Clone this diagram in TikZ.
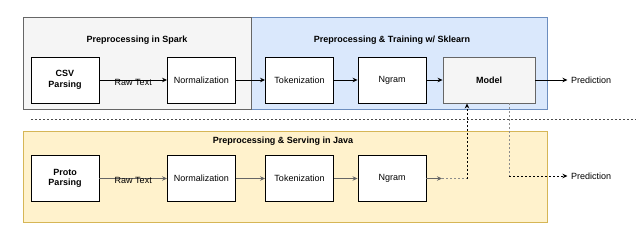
\documentclass[tikz,border=0pt]{standalone}
\usepackage{fontspec}
\setmainfont{Liberation Sans}
\usetikzlibrary{positioning,calc,arrows.meta}

\definecolor{sparkfill}{HTML}{F5F5F5}
\definecolor{sparkline}{HTML}{666666}
\definecolor{skfill}{HTML}{DAE8FC}
\definecolor{skline}{HTML}{6C8EBF}
\definecolor{javafill}{HTML}{FFF2CC}
\definecolor{javaline}{HTML}{D6B656}

\begin{document}
\begin{tikzpicture}[x=1pt,y=-1pt,font=\fontsize{9}{10.5}\selectfont,
                     >={Stealth[length=5pt,width=4.5pt]},
                     group/.style={rectangle,draw,line width=0.8pt,inner sep=0pt},
                     step node/.style={rectangle,draw,fill=white,line width=0.9pt,minimum width=68pt,minimum height=46pt,inner sep=1pt,align=center},
                     title/.style={font=\fontsize{9}{10.5}\selectfont\bfseries},
                     flow/.style={->,line width=0.8pt},
                     dotline/.style={line width=0.8pt,dash pattern=on 2pt off 2pt}
                    ]
   \useasboundingbox (0,0) rectangle (636,246);

   % the three stages
   \node[group,fill=skfill,draw=skline,minimum width=296pt,minimum height=92pt] (sk) at (399,63) {};
   \node[group,fill=sparkfill,draw=sparkline,minimum width=228pt,minimum height=92pt] (spark) at (137,63) {};
   \node[group,fill=javafill,draw=javaline,minimum width=524pt,minimum height=91pt] (java) at (285,176.5) {};
   \node[title] (tspark) at (137,40) {Preprocessing in Spark};
   \node[title] (tsk) at (392,40) {Preprocessing \& Training w/ Sklearn};
   \node[title] (tjava) at (283,141) {Preprocessing \& Serving in Java};

   % training row
   \node[step node,font=\fontsize{9}{10.5}\selectfont\bfseries] (csv) at (65,80) {CSV\\Parsing};
   \node[step node] (norm1) at (201.5,80) {Normalization};
   \node[step node] (tok1) at (299.5,80) {Tokenization};
   \node[step node] (ngram1) at (392,80) {Ngram};
   \node[step node,fill=sparkfill,draw=sparkline,minimum width=92pt,font=\fontsize{9}{10.5}\selectfont\bfseries] (model) at (489,80) {Model};
   \node (pred1) at (591,80) {Prediction};

   % serving row
   \node[step node,font=\fontsize{9}{10.5}\selectfont\bfseries] (proto) at (65,178.5) {Proto\\Parsing};
   \node[step node] (norm2) at (201.5,178.5) {Normalization};
   \node[step node] (tok2) at (299.5,178.5) {Tokenization};
   \node[step node] (ngram2) at (392,178.5) {Ngram};
   \node (pred2) at (591,176) {Prediction};
   \coordinate (join) at (442,178.5);
   \coordinate (turn) at (509,176);

   % split between training and serving
   \coordinate (sepl) at (31,119);
   \coordinate (sepr) at (636,119);
   \draw[dotline,black!70,line width=0.6pt] (sepl) -- (sepr);

   \path[flow]%
     (csv) edge node [yshift=-2pt] {Raw Text} (norm1)
     (norm1) edge (tok1)
     (tok1) edge (ngram1)
     (ngram1) edge (model)
     (model) edge (pred1);
   \path[flow,black!60]%
     (proto) edge node [yshift=-2pt,black] {Raw Text} (norm2)
     (norm2) edge (tok2)
     (tok2) edge (ngram2)
     (ngram2) edge (join);
   \draw[dotline,black!45] (join) -- ++(25,0);
   \draw[dotline,->] ($(join)+(25,0)$) -- ($(model.south)+(-22,0)$);
   \draw[dotline,black!45] ($(model.south)+(20,0)$) -- (turn);
   \draw[dotline,->] (turn) -- (pred2);
 \end{tikzpicture}
\end{document}
